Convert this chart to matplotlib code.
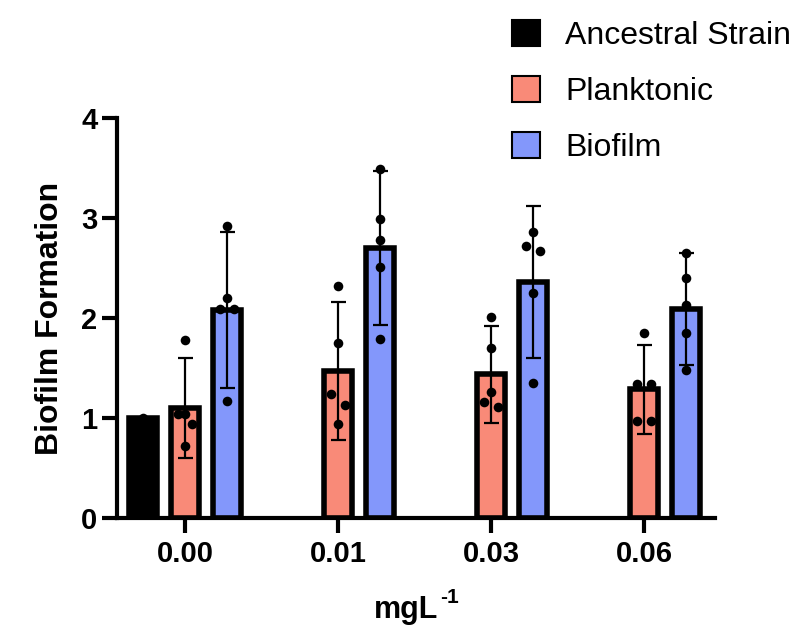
import matplotlib
matplotlib.use("Agg")
import matplotlib.pyplot as plt
from matplotlib.patches import Patch
import numpy as np

plt.rcParams['font.family'] = ['Liberation Sans', 'DejaVu Sans']

# ---- data ----
groups = ['0.00', '0.01', '0.03', '0.06']
series = ['Ancestral Strain', 'Planktonic', 'Biofilm']

ancestral_groups = [0]
ancestral_mean = [1.00]
ancestral_points = [[1.00]]

planktonic_mean = [1.10, 1.47, 1.44, 1.29]
planktonic_err = [0.50, 0.69, 0.485, 0.445]
planktonic_points = [
    [1.78, 1.04, 1.04, 0.94, 0.72],
    [2.32, 1.75, 1.24, 1.13, 0.94],
    [2.01, 1.70, 1.26, 1.16, 1.11],
    [1.85, 1.34, 1.34, 0.97, 0.97],
]
planktonic_jitter = [
    [0, 0, -1, 1, 0],
    [0, 0, -1, 1, 0],
    [0, 0, 0, -1, 1],
    [0, -1, 1, -1, 1],
]

biofilm_mean = [2.08, 2.70, 2.36, 2.09]
biofilm_err = [0.78, 0.77, 0.76, 0.56]
biofilm_points = [
    [2.92, 2.20, 2.09, 2.09, 1.17],
    [3.49, 2.99, 2.78, 2.51, 1.79],
    [2.86, 2.72, 2.67, 2.25, 1.35],
    [2.65, 2.40, 2.13, 1.85, 1.48],
]
biofilm_jitter = [
    [0, 0, -1, 1, 0],
    [0, 0, 0, 0, 0],
    [0, -1, 1, 0, 0],
    [0, 0, 0, 0, 0],
]

colors = ['#000000', '#F98A78', '#8397FB']

# ---- layout ----
fig = plt.figure(figsize=(7.94, 6.34), dpi=100)
ax = fig.add_axes([117/794, 116/634, 598/794, 400/634])

offset = 0.275
width = 0.186
jit = 0.046
edge_lw = 4.0

x = np.arange(len(groups))

def draw(xpos, means, errs, points, jitters, color, z):
    ax.bar(xpos, means, width=width, color=color, edgecolor='black',
           linewidth=edge_lw, zorder=z)
    if errs is not None:
        ax.errorbar(xpos, means, yerr=errs, fmt='none', ecolor='black',
                    elinewidth=1.6, capsize=5.4, capthick=1.6, zorder=z + 1)
    for xi, pts, jj in zip(xpos, points, jitters):
        ax.scatter([xi + j * jit for j in jj], pts, s=48, color='black',
                   zorder=z + 2, linewidths=0)

anc_x = np.array([x[g] - offset for g in ancestral_groups])
draw(anc_x, ancestral_mean, None, ancestral_points, [[0]], colors[0], 3)
draw(x, planktonic_mean, planktonic_err, planktonic_points, planktonic_jitter, colors[1], 3)
draw(x + offset, biofilm_mean, biofilm_err, biofilm_points, biofilm_jitter, colors[2], 3)

ax.set_xlim(-0.444, 3.464)
ax.set_ylim(0, 4)
ax.set_yticks([0, 1, 2, 3, 4])
ax.set_xticks(x)
ax.set_xticklabels(groups)

for s in ['top', 'right']:
    ax.spines[s].set_visible(False)
for s in ['left', 'bottom']:
    ax.spines[s].set_linewidth(3)
    ax.spines[s].set_zorder(6)

ax.tick_params(axis='both', width=3, length=11, labelsize=21, direction='out')
ax.tick_params(axis='y', pad=3)
ax.tick_params(axis='x', pad=5)
for lab in ax.get_xticklabels() + ax.get_yticklabels():
    lab.set_fontweight('bold')

ax.set_ylabel('Biofilm Formation', fontsize=23, fontweight='bold', labelpad=12)

# x label "mgL" with a superscript "-1"
xl = ax.annotate('mgL', xy=(0.5, 0), xycoords='axes fraction',
                 xytext=(-7, -72), textcoords='offset points',
                 ha='center', va='baseline', fontsize=22, fontweight='bold')
ax.annotate('-1', xy=(1, 1), xycoords=xl, xytext=(1, 5), textcoords='offset points',
            ha='left', va='top', fontsize=15, fontweight='bold')

handles = [Patch(facecolor=c, edgecolor='black', linewidth=1.5) for c in colors]
fig.legend(handles, series, loc='upper left', bbox_to_anchor=(512/794, 1 - 20/634),
           frameon=False, fontsize=23, handlelength=0.88, handleheight=0.88,
           handletextpad=0.78, labelspacing=0.78, borderpad=0, borderaxespad=0)

fig.savefig('out.png', dpi=100)
